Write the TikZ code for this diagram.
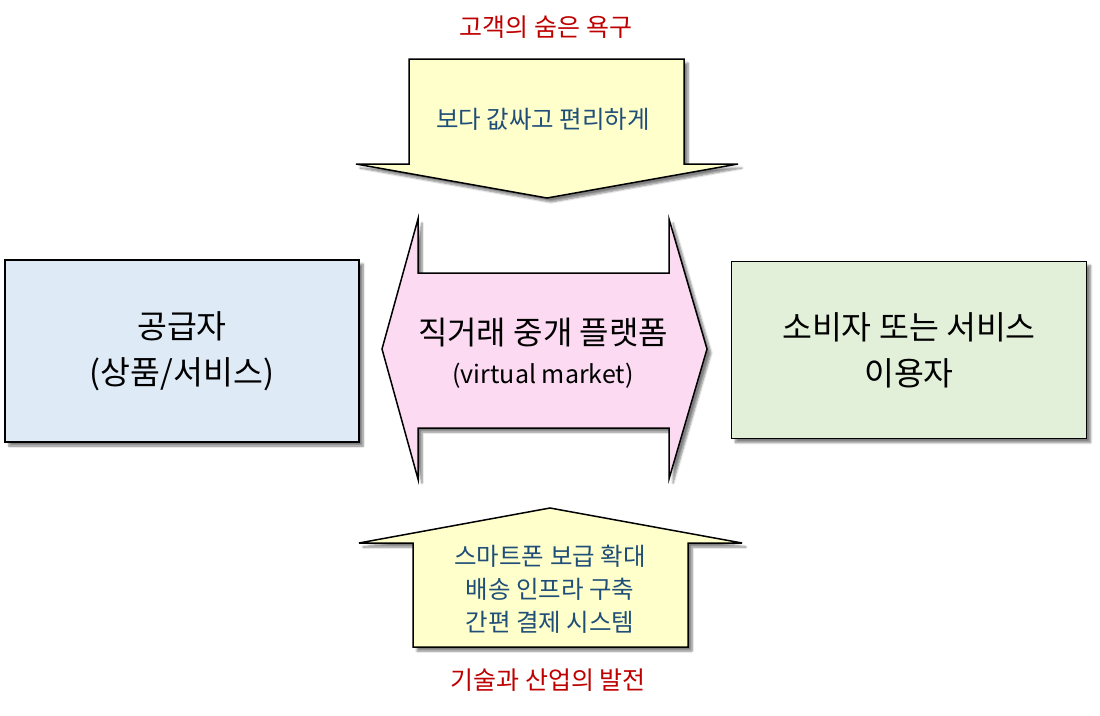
\documentclass[tikz,border=0pt]{standalone}
\usepackage{fontspec}
\setmainfont{Noto Sans CJK KR}
\usepackage{tikz}
\usetikzlibrary{shadows.blur}
\definecolor{noteyellow}{rgb}{1.0, 1.0, 0.8}
\definecolor{platformpink}{rgb}{0.99, 0.86, 0.95}
\definecolor{supplyblue}{rgb}{0.87, 0.92, 0.97}
\definecolor{usergreen}{rgb}{0.89, 0.94, 0.85}
\definecolor{notetext}{rgb}{0.12, 0.31, 0.47}
\definecolor{titlered}{rgb}{0.75, 0.0, 0.0}

\begin{document}
\begin{tikzpicture}[x=1pt, y=-1pt,
    shapeline/.style={draw=black, line width=1.5pt, line join=miter,
      blur shadow={shadow xshift=4pt, shadow yshift=-4pt, shadow blur steps=6, shadow opacity=50}},
    sidebox/.style={shapeline, rectangle, inner sep=0pt, align=center,
      font=\fontsize{32.5}{46}\selectfont},
    notetext/.style={text=notetext, align=center, font=\fontsize{24.5}{33}\selectfont},
    titletext/.style={text=titlered, font=\fontsize{25}{30}\selectfont}]
    \useasboundingbox (0,0) rectangle (1100,715);
    % top arrow
    \draw[shapeline, fill=noteyellow] (409,59) -- (684,59) -- (684,164) -- (738,164)
      -- (547,198) -- (356,164) -- (409,164) -- cycle;
    \node[titletext] (needtitle) at (546,27) {고객의 숨은 욕구};
    \node[notetext] (needtext) at (543,119) {보다 값싸고 편리하게};
    % middle double arrow
    \draw[shapeline, fill=platformpink] (382,349) -- (418,219) -- (418,273) -- (669,273)
      -- (669,219) -- (707,349) -- (669,479) -- (669,428) -- (418,428) -- (418,479) -- cycle;
    \node[font=\fontsize{32}{36}\selectfont] (platform) at (543,333) {직거래 중개 플랫폼};
    \node[font=\fontsize{25}{28}\selectfont] (virtual) at (543,376) {(virtual market)};
    % side boxes
    \node[sidebox, fill=supplyblue, minimum width=354pt, minimum height=182pt]
      (supplier) at (182,351) {공급자\\(상품/서비스)};
    \node[sidebox, fill=usergreen, minimum width=355pt, minimum height=177pt]
      (consumer) at (909,350) {소비자 또는 서비스\\이용자};
    % bottom arrow
    \draw[shapeline, fill=noteyellow] (550,508) -- (742,543) -- (688,543) -- (688,647)
      -- (413,647) -- (413,543) -- (359,543) -- cycle;
    \node[notetext] (techtext) at (550,589) {스마트폰 보급 확대\\배송 인프라 구축\\간편 결제 시스템};
    \node[titletext] (techtitle) at (548,680) {기술과 산업의 발전};
  \end{tikzpicture}
\end{document}
